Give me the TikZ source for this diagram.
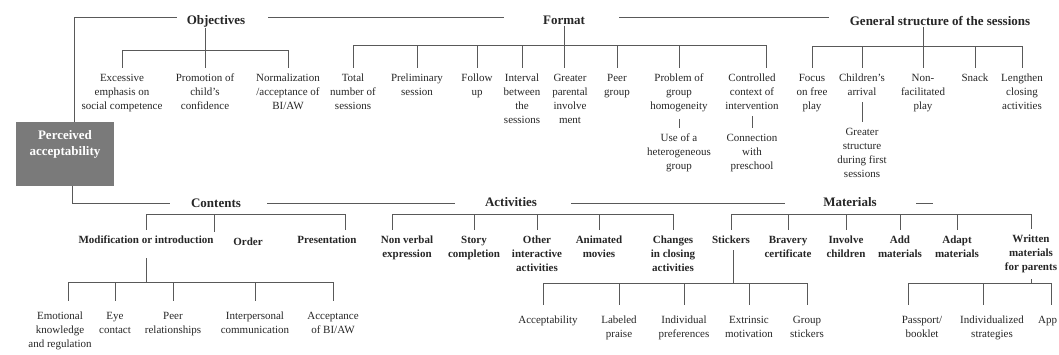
\documentclass[tikz,border=0pt]{standalone}
\usepackage{fontspec}
\setmainfont{Liberation Serif}
\tikzset{
  conn/.style={draw=black!65, line width=0.9pt},
  leaf/.style={anchor=north, align=center, inner xsep=1pt, inner ysep=6pt,
    text=black!85, font=\fontsize{11}{14}\selectfont},
  bleaf/.style={leaf, font=\fontsize{11}{14}\selectfont\bfseries},
  lowleaf/.style={leaf, inner ysep=11pt},
  heading/.style={inner sep=1pt, text=black!85, font=\fontsize{13}{15}\selectfont\bfseries},
  pabox/.style={fill=black!52, minimum width=98pt, minimum height=64pt, inner sep=0pt},
  palabel/.style={anchor=north, yshift=-8pt, align=center, inner sep=0pt, text=white,
    font=\fontsize{13}{16}\selectfont\bfseries},
}
\begin{document}
\begin{tikzpicture}[x=1pt,y=-1pt]
\useasboundingbox (0,0) rectangle (1059,354);

% root and the two long rules
\node[pabox, label={[palabel]north:Perceived\\acceptability}] (pa) at (65,154) {};
\node[heading] (obj) at (216,21) {Objectives};
\node[heading] (fmt) at (564,20) {Format};
\node[heading] (gen) at (940,21) {General structure of the sessions};
\node[heading] (con) at (216,203) {Contents};
\node[heading] (act) at (511,202) {Activities};
\node[heading] (mat) at (850,202) {Materials};

\coordinate (t1) at (177,17);
\coordinate (t2) at (268,17);
\coordinate (t3) at (504,17);
\coordinate (t4) at (619,17);
\coordinate (t5) at (829,17);
\draw[conn] ([xshift=9pt]pa.north) |- (t1);
\draw[conn] (t2) -- (t3);
\draw[conn] (t4) -- (t5);

\coordinate (b1) at (170,203);
\coordinate (b2) at (267,203);
\coordinate (b3) at (455,203);
\coordinate (b4) at (571,203);
\coordinate (b5) at (785,203);
\coordinate (b6) at (916,203);
\coordinate (b7) at (933,203);
\draw[conn] ([xshift=7pt]pa.south) |- (b1);
\draw[conn] (b2) -- (b3);
\draw[conn] (b4) -- (b5);
\draw[conn] (b6) -- (b7);

% objectives
\node[leaf] (o1) at (122,68) {Excessive\\emphasis on\\social competence};
\node[leaf] (o2) at (205,68) {Promotion of\\child's\\confidence};
\node[leaf] (o3) at (288,68) {Normalization\\/acceptance of\\BI/AW};
\coordinate (objbar) at (205,50);
\draw[conn] (obj.south -| objbar) -- (objbar);
\foreach \n in {o1,o2,o3}
  \draw[conn] (objbar) -| (\n.north);

% format
\node[leaf] (f1) at (353,68) {Total\\number of\\sessions};
\node[leaf] (f2) at (417,68) {Preliminary\\session};
\node[leaf] (f3) at (477,68) {Follow\\up};
\node[leaf] (f4) at (522,68) {Interval\\between\\the\\sessions};
\node[leaf] (f5) at (570,68) {Greater\\parental\\involve\\ment};
\node[leaf] (f6) at (617,68) {Peer\\group};
\node[leaf] (f7) at (679,68) {Problem of\\group\\homogeneity};
\node[leaf] (f8) at (752,68) {Controlled\\context of\\intervention};
\node[leaf] (f7b) at (679,128) {Use of a\\heterogeneous\\group};
\node[leaf] (f8b) at (752,128) {Connection\\with\\preschool};
\coordinate (fmtbar) at (564,45);
\draw[conn] (fmt.south) -- (fmt.south |- f5.north);
\foreach \n in {f1,f2,f3,f4,f6,f7}
  \draw[conn] (fmtbar) -| (\n.north);
\draw[conn] (fmtbar) -| ([xshift=14pt]f8.north);
\draw[conn] (f7.south) -- (f7b.north);
\draw[conn] (f8.south) -- (f8b.north);

% general structure
\node[leaf] (g1) at (812,68) {Focus\\on free\\play};
\node[leaf] (g2) at (862,68) {Children's\\arrival};
\node[leaf] (g3) at (923,68) {Non-\\facilitated\\play};
\node[leaf] (g4) at (975,68) {Snack};
\node[leaf] (g5) at (1022,68) {Lengthen\\closing\\activities};
\node[leaf] (g2b) at (862,122) {Greater\\structure\\during first\\sessions};
\coordinate (genbar) at (923,46);
\draw[conn] (gen.south -| genbar) -- (g3.north);
\foreach \n in {g1,g2,g4,g5}
  \draw[conn] (genbar) -| (\n.north);
\draw[conn] (g2.south) -- (g2b.north);

% contents
\node[bleaf] (k1) at (146,230) {Modification or introduction};
\node[bleaf] (k2) at (248,232) {Order};
\node[bleaf] (k3) at (327,230) {Presentation};
\coordinate (conbar) at (214,214);
\draw[conn] (conbar) -| (k1.north);
\draw[conn] (conbar) -| ([xshift=-34pt]k2.north);
\draw[conn] (conbar) -| ([xshift=18pt]k3.north);

\node[lowleaf] (e1) at (60,301) {Emotional\\knowledge\\and regulation};
\node[lowleaf] (e2) at (115,301) {Eye\\contact};
\node[lowleaf] (e3) at (173,301) {Peer\\relationships};
\node[lowleaf] (e4) at (255,301) {Interpersonal\\communication};
\node[lowleaf] (e5) at (333,301) {Acceptance\\of BI/AW};
\coordinate (modbar) at (146,282);
\draw[conn] ([yshift=-8pt]k1.south) -- (modbar);
\draw[conn] (modbar) -| ([xshift=8pt]e1.north);
\foreach \n in {e2,e3,e4,e5}
  \draw[conn] (modbar) -| (\n.north);

% activities
\node[bleaf] (a1) at (407,230) {Non verbal\\expression};
\node[bleaf] (a2) at (474,230) {Story\\completion};
\node[bleaf] (a3) at (537,230) {Other\\interactive\\activities};
\node[bleaf] (a4) at (599,230) {Animated\\movies};
\node[bleaf] (a5) at (673,230) {Changes\\in closing\\activities};
\coordinate (actbar) at (535,214);
\draw[conn] (actbar) -| ([xshift=-15pt]a1.north);
\foreach \n in {a2,a3,a4,a5}
  \draw[conn] (actbar) -| (\n.north);

% materials
\node[bleaf] (m1) at (731,230) {Stickers};
\node[bleaf] (m2) at (788,230) {Bravery\\certificate};
\node[bleaf] (m3) at (846,230) {Involve\\children};
\node[bleaf] (m4) at (900,230) {Add\\materials};
\node[bleaf] (m5) at (957,230) {Adapt\\materials};
\node[bleaf] (m6) at (1031,229) {Written\\materials\\for parents};
\coordinate (matbar) at (846,214);
\foreach \n in {m1,m2,m3,m4,m5,m6}
  \draw[conn] (matbar) -| (\n.north);

\node[lowleaf] (s1) at (548,305) {Acceptability};
\node[lowleaf] (s2) at (619,305) {Labeled\\praise};
\node[lowleaf] (s3) at (684,305) {Individual\\preferences};
\node[lowleaf] (s4) at (749,305) {Extrinsic\\motivation};
\node[lowleaf] (s5) at (807,305) {Group\\stickers};
\coordinate (stkbar) at (733,283);
\draw[conn] (m1.south -| stkbar) -- (stkbar);
\draw[conn] (stkbar) -| ([xshift=-5pt]s1.north);
\foreach \n in {s2,s3,s4,s5}
  \draw[conn] (stkbar) -| (\n.north);

\node[lowleaf] (w1) at (922,305) {Passport/\\booklet};
\node[lowleaf] (w2) at (992,305) {Individualized\\strategies};
\node[lowleaf, anchor=north west] (w3) at (1037,305) {App};
\coordinate (wrbar) at (1031,283);
\draw[conn] (m6.south) -- (wrbar);
\draw[conn] (wrbar) -| ([xshift=-14pt]w1.north);
\draw[conn] (wrbar) -| ([xshift=-9pt]w2.north);
\draw[conn] (wrbar) -| ([xshift=4pt]w3.north);
\end{tikzpicture}
\end{document}
